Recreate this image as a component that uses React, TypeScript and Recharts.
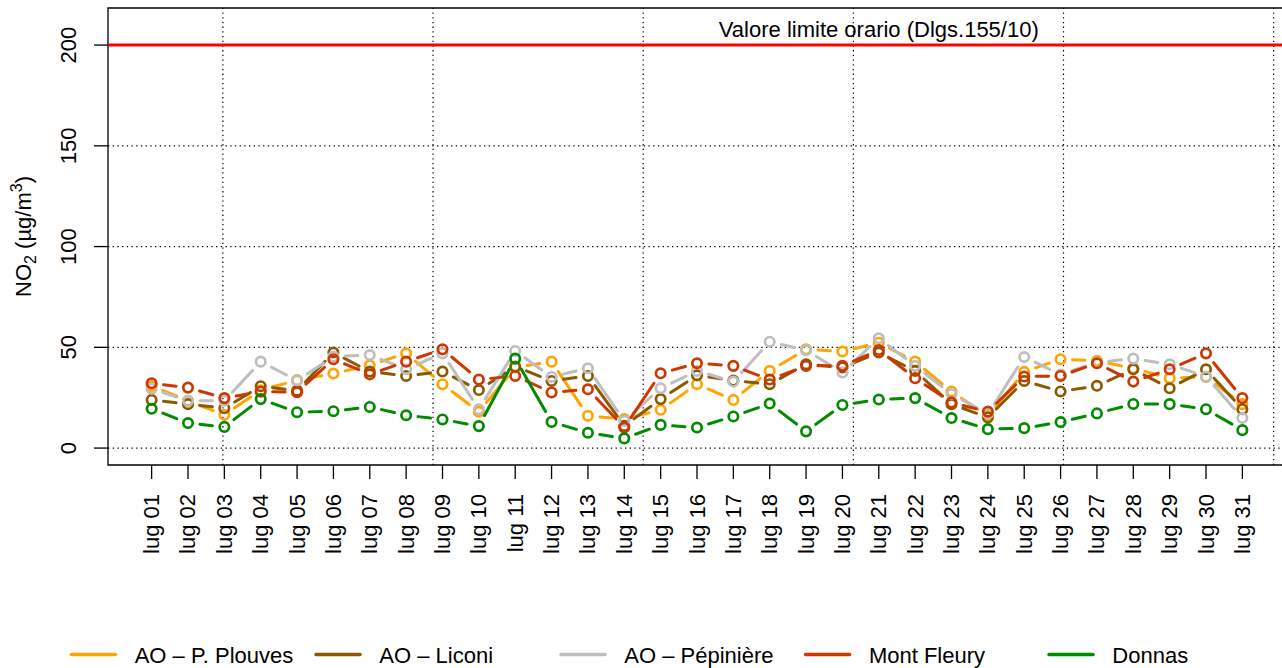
import React from 'react';
import { LineChart, Line, XAxis, YAxis, ReferenceLine, ReferenceArea, ReferenceDot } from 'recharts';

// ---------- data ----------
const dayLabels = [
  'lug 01', 'lug 02', 'lug 03', 'lug 04', 'lug 05', 'lug 06', 'lug 07', 'lug 08', 'lug 09', 'lug 10',
  'lug 11', 'lug 12', 'lug 13', 'lug 14', 'lug 15', 'lug 16', 'lug 17', 'lug 18', 'lug 19', 'lug 20',
  'lug 21', 'lug 22', 'lug 23', 'lug 24', 'lug 25', 'lug 26', 'lug 27', 'lug 28', 'lug 29', 'lug 30', 'lug 31',
];

const plouves = [30.8, 23.5, 16.5, 28.7, 33.7, 37.0, 41.1, 47.0, 31.7, 18.0, 40.0, 42.9, 16.0, 14.4, 19.0, 31.7,
  23.9, 38.3, 49.0, 47.9, 52.3, 42.9, 28.1, 16.0, 37.8, 44.1, 43.3, 39.6, 34.7, 35.3, 21.8];
const liconi = [23.9, 21.8, 19.8, 30.7, 28.5, 47.4, 38.0, 35.8, 38.0, 28.8, 40.5, 33.3, 35.8, 11.0, 24.3, 36.1,
  33.5, 31.7, 41.6, 40.0, 47.4, 38.3, 21.8, 15.2, 33.3, 28.1, 30.9, 39.1, 29.7, 39.1, 19.3];
const pepiniere = [29.5, 23.4, 23.5, 42.9, 33.5, 45.4, 46.2, 39.1, 47.0, 19.3, 48.2, 35.3, 39.6, 13.5, 29.7, 38.3,
  33.0, 52.8, 48.5, 37.5, 54.5, 40.8, 26.8, 17.0, 45.2, 36.5, 42.5, 44.4, 41.6, 35.5, 14.9];
const montFleury = [32.2, 30.0, 24.8, 28.0, 27.7, 44.1, 36.6, 42.9, 49.0, 34.0, 35.8, 27.6, 29.2, 10.2, 37.1, 42.1,
  40.8, 34.0, 40.8, 40.8, 48.7, 34.7, 22.6, 18.1, 35.5, 35.8, 42.1, 33.0, 39.1, 47.0, 24.8];
const donnas = [19.5, 12.4, 10.5, 24.3, 17.8, 18.3, 20.4, 16.3, 14.2, 10.9, 44.4, 13.0, 7.6, 4.8, 11.5, 10.2,
  15.7, 22.1, 8.3, 21.4, 24.1, 24.8, 14.9, 9.4, 9.9, 12.9, 17.2, 21.9, 21.8, 19.3, 8.9];

const seriesNames = ['AO – P. Plouves', 'AO – Liconi', 'AO – Pépinière', 'Mont Fleury', 'Donnas'];
const seriesValues = [plouves, liconi, pepiniere, montFleury, donnas];
const seriesColors = ['#FFA500', '#8B5A00', '#BEBEBE', '#CD3700', '#008B00'];

const yTicks = [0, 50, 100, 150, 200];
const yDomain: [number, number] = [-8.4, 218.4];
const xDomain: [number, number] = [-0.2, 32.2];
const gridX = [2.96, 8.74, 14.52, 20.3, 26.08, 31.86];
const gridY = [0, 50, 100, 150];

const limitValue = 200;
const limitLabel = 'Valore limite orario (Dlgs.155/10)';
const limitLabelX = 21;

// ---------- table built for recharts ----------
const dayNumbers = dayLabels.map((_, i) => i + 1);
const data = dayLabels.map((label, i) => {
  const row: Record<string, any> = { day: i + 1, label };
  seriesValues.forEach((vals, s) => {
    row[`s${s}`] = vals[i];
  });
  return row;
});

// ---------- styling ----------
const FONT = 'Liberation Sans, Arial, Helvetica, sans-serif';
const GAP = 12;
const LINE_W = 3;
const DOT_R = 4.7;
const DOT_W = 2.7;
const legendLineX = [71.4, 316, 561, 805.6, 1049];

function makeDot(color: string) {
  return (props: any) => {
    const { cx, cy, index, points } = props;
    let seg: React.ReactNode = null;
    if (points && index < points.length - 1) {
      const n = points[index + 1];
      const dx = n.x - cx;
      const dy = n.y - cy;
      const d = Math.hypot(dx, dy);
      if (d > 2 * GAP) {
        const ux = dx / d;
        const uy = dy / d;
        seg = (
          <line
            x1={cx + ux * GAP}
            y1={cy + uy * GAP}
            x2={n.x - ux * GAP}
            y2={n.y - uy * GAP}
            stroke={color}
            strokeWidth={LINE_W}
            strokeLinecap="round"
          />
        );
      }
    }
    return (
      <g key={`d-${index}`}>
        {seg}
        <circle cx={cx} cy={cy} r={DOT_R} fill="none" stroke={color} strokeWidth={DOT_W} />
      </g>
    );
  };
}

const XTick = (props: any) => {
  const { x, y, payload } = props;
  const label = dayLabels[payload.value - 1];
  const tx = x + 7.5;
  const ty = y + 13;
  return (
    <text x={tx} y={ty} transform={`rotate(-90 ${tx} ${ty})`} textAnchor="end" fontSize={22}
      fontFamily={FONT} fill="#000">
      {label}
    </text>
  );
};

const YTick = (props: any) => {
  const { y, payload } = props;
  const tx = 76;
  return (
    <text x={tx} y={y} transform={`rotate(-90 ${tx} ${y})`} textAnchor="middle" fontSize={22}
      fontFamily={FONT} fill="#000">
      {payload.value}
    </text>
  );
};

const YTitle = (props: any) => {
  const vb = props.viewBox || { y: 8, height: 457 };
  const tx = 31;
  const ty = vb.y + vb.height / 2;
  return (
    <text x={tx} y={ty} transform={`rotate(-90 ${tx} ${ty})`} textAnchor="middle" fontSize={22}
      fontFamily={FONT} fill="#000">
      <tspan>NO</tspan>
      <tspan fontSize={16} dy={5}>2</tspan>
      <tspan dy={-5}> (µg/m</tspan>
      <tspan fontSize={16} dy={-9}>3</tspan>
      <tspan dy={9}>)</tspan>
    </text>
  );
};

const LimitText = (props: any) => {
  const { cx, cy } = props;
  return (
    <text x={cx} y={cy - 8.3} textAnchor="middle" fontSize={22} fontFamily={FONT} fill="#000">
      {limitLabel}
    </text>
  );
};

export default function App() {
  return (
    <div style={{ position: 'absolute', left: 0, top: 0, width: 1282, height: 668, overflow: 'hidden', background: '#fff' }}>
      <LineChart
        width={1290}
        height={668}
        data={data}
        margin={{ top: 8, right: 4, bottom: 0, left: 0 }}
        style={{ fontFamily: FONT }}
      >
        <XAxis
          dataKey="day"
          type="number"
          domain={xDomain}
          ticks={dayNumbers}
          interval={0}
          allowDataOverflow
          height={203}
          axisLine={false}
          tickSize={14}
          tickLine={{ stroke: '#000', strokeWidth: 1.3 }}
          tick={<XTick />}
        />
        <YAxis
          type="number"
          domain={yDomain}
          ticks={yTicks}
          interval={0}
          allowDataOverflow
          width={108}
          axisLine={false}
          tickSize={14}
          tickLine={{ stroke: '#000', strokeWidth: 1.3 }}
          tick={<YTick />}
          label={{ content: <YTitle /> } as any}
        />
        {gridY.map((v) => (
          <ReferenceLine key={`gy${v}`} y={v} stroke="#000" strokeWidth={1.2} strokeDasharray="1.3 3.4" />
        ))}
        {gridX.map((v) => (
          <ReferenceLine key={`gx${v}`} x={v} stroke="#000" strokeWidth={1.2} strokeDasharray="1.3 3.4" />
        ))}
        <ReferenceLine y={limitValue} stroke="#FF0000" strokeWidth={3} />
        <ReferenceDot x={limitLabelX} y={limitValue} r={0} shape={<LimitText />} />
        {seriesNames.map((name, s) => (
          <Line
            key={name}
            name={name}
            dataKey={`s${s}`}
            stroke="none"
            isAnimationActive={false}
            dot={makeDot(seriesColors[s])}
            activeDot={false}
          />
        ))}
        <ReferenceArea x1={xDomain[0]} x2={xDomain[1]} y1={yDomain[0]} y2={yDomain[1]} fill="none"
          stroke="#000" strokeWidth={1.3} />
      </LineChart>
      <svg width={1282} height={40} style={{ position: 'absolute', left: 0, top: 628 }}>
        {seriesNames.map((name, s) => (
          <g key={name}>
            <line x1={legendLineX[s]} x2={legendLineX[s] + 44} y1={26.5} y2={26.5} stroke={seriesColors[s]}
              strokeWidth={3.5} strokeLinecap="round" />
            <text x={legendLineX[s] + 63.3} y={34.5} fontSize={22} fontFamily={FONT} fill="#000">{name}</text>
          </g>
        ))}
      </svg>
    </div>
  );
}
